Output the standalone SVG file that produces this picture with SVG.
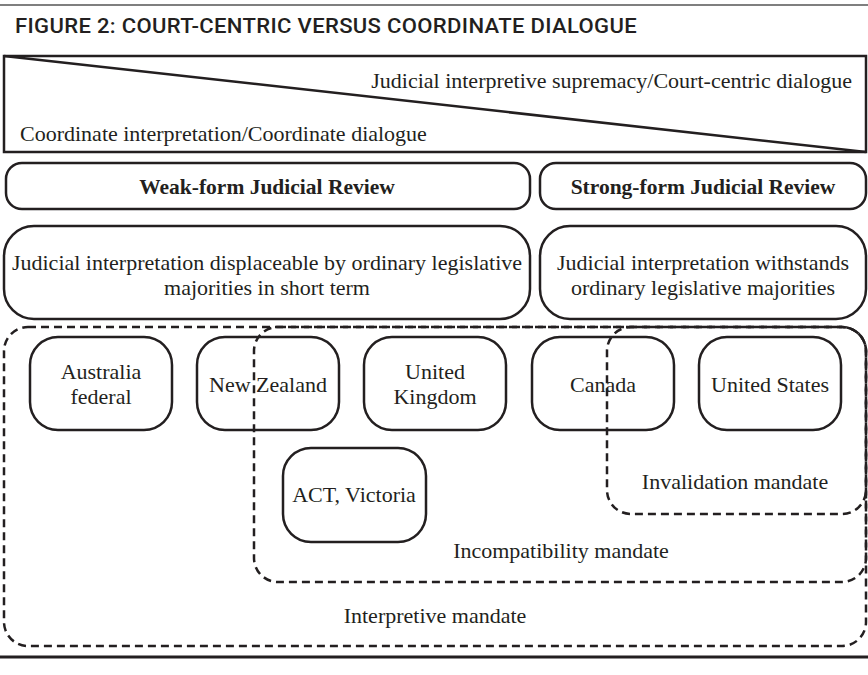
<svg xmlns="http://www.w3.org/2000/svg" width="868" height="675" viewBox="0 0 868 675">
<style>
.bg{fill:#ffffff}
.hd{font-family:Roboto,"DejaVu Sans",sans-serif;font-size:20px;font-weight:500;fill:#231f20;letter-spacing:0.3px}
.t{font-family:"Liberation Serif","Times New Roman",serif;font-size:22px;fill:#231f20}
.b{font-family:"Liberation Serif","Times New Roman",serif;font-size:21.5px;font-weight:bold;fill:#231f20}
.box{fill:none;stroke:#231f20;stroke-width:2.5}
.dash{fill:none;stroke:#231f20;stroke-width:2.5;stroke-dasharray:8 5}
</style>
<rect class="bg" x="0" y="0" width="868" height="675"/>
<line x1="0" y1="5" x2="868" y2="5" stroke="#555" stroke-width="1.5"/>
<text class="hd" x="15" y="33" textLength="622" lengthAdjust="spacingAndGlyphs">FIGURE 2: COURT-CENTRIC VERSUS COORDINATE DIALOGUE</text>

<g id="spectrum">
<rect class="box" x="4" y="56" width="862" height="96"/>
<line x1="4" y1="56" x2="866" y2="152" stroke="#231f20" stroke-width="2.5"/>
<text class="t" x="852" y="88" text-anchor="end">Judicial interpretive supremacy/Court-centric dialogue</text>
<text class="t" x="20" y="141">Coordinate interpretation/Coordinate dialogue</text>
</g>

<g id="weak-form">
<rect class="box" x="6" y="163" width="524" height="46" rx="16"/>
<text class="b" x="267" y="194" text-anchor="middle">Weak-form Judicial Review</text>
</g>
<g id="strong-form">
<rect class="box" x="540" y="163" width="326" height="46" rx="16"/>
<text class="b" x="703" y="194" text-anchor="middle">Strong-form Judicial Review</text>
</g>

<g id="weak-desc">
<rect class="box" x="4" y="226" width="526" height="93" rx="30"/>
<text class="t" x="267" y="270" text-anchor="middle">Judicial interpretation displaceable by ordinary legislative</text>
<text class="t" x="267" y="295" text-anchor="middle">majorities in short term</text>
</g>
<g id="strong-desc">
<rect class="box" x="540" y="226" width="326" height="93" rx="30"/>
<text class="t" x="703" y="270" text-anchor="middle">Judicial interpretation withstands</text>
<text class="t" x="703" y="295" text-anchor="middle">ordinary legislative majorities</text>
</g>

<g id="mandates">
<rect id="interpretive-mandate" class="dash" x="4" y="327" width="862" height="319" rx="24"/>
<rect id="incompatibility-mandate" class="dash" x="254" y="327" width="612" height="255" rx="24"/>
<rect id="invalidation-mandate" class="dash" x="607" y="327" width="259" height="187" rx="24"/>
<text class="t" x="735" y="489" text-anchor="middle">Invalidation mandate</text>
<text class="t" x="561" y="558" text-anchor="middle">Incompatibility mandate</text>
<text class="t" x="435" y="623" text-anchor="middle">Interpretive mandate</text>
</g>

<g id="australia">
<rect class="box" x="30" y="337" width="142" height="93" rx="28"/>
<text class="t" x="101" y="379" text-anchor="middle">Australia</text>
<text class="t" x="101" y="404" text-anchor="middle">federal</text>
</g>
<g id="new-zealand">
<rect class="box" x="197" y="337" width="142" height="93" rx="28"/>
<text class="t" x="268" y="392" text-anchor="middle">New Zealand</text>
</g>
<g id="united-kingdom">
<rect class="box" x="364" y="337" width="142" height="93" rx="28"/>
<text class="t" x="435" y="379" text-anchor="middle">United</text>
<text class="t" x="435" y="404" text-anchor="middle">Kingdom</text>
</g>
<g id="canada">
<rect class="box" x="532" y="337" width="142" height="93" rx="28"/>
<text class="t" x="603" y="392" text-anchor="middle">Canada</text>
</g>
<g id="united-states">
<rect class="box" x="699" y="337" width="142" height="93" rx="28"/>
<text class="t" x="770" y="392" text-anchor="middle">United States</text>
</g>
<g id="act-victoria">
<rect class="box" x="283" y="448" width="143" height="94" rx="28"/>
<text class="t" x="354" y="502" text-anchor="middle">ACT, Victoria</text>
</g>

<line x1="0" y1="657" x2="868" y2="657" stroke="#231f20" stroke-width="3"/>
</svg>
